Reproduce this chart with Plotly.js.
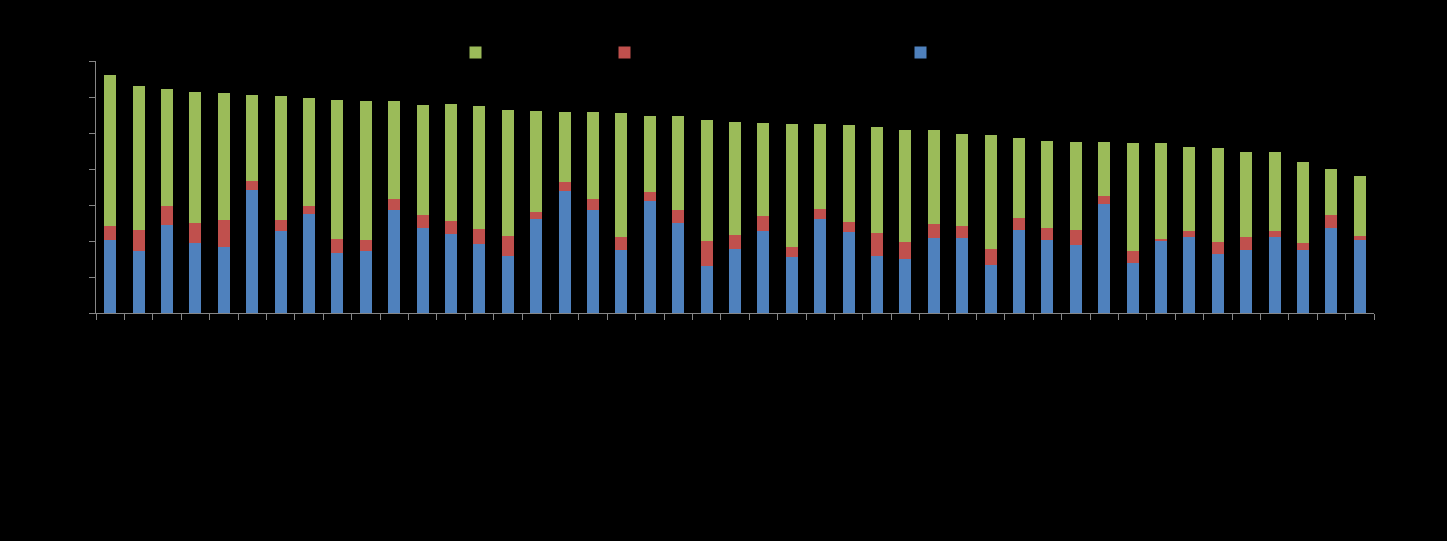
<!DOCTYPE html>
<html>
<head>
<meta charset="utf-8">
<script src="https://cdn.plot.ly/plotly-3.0.1.min.js"></script>
<style>
  html, body { margin: 0; padding: 0; background: #000000; }
  #chart { width: 1447px; height: 541px; }
</style>
</head>
<body>
<div id="chart"></div>
<script>
// Categories (labels are drawn in black on black in the reference, so unreadable)
const categories = Array.from({length: 45}, (_, i) => "Item " + (i + 1));

// Series values (stack: blue bottom, red middle, green top)
const seriesBlue = [
  2.03, 1.72, 2.44, 1.94, 1.83, 3.42, 2.28, 2.75, 1.67, 1.72,
  2.86, 2.36, 2.19, 1.92, 1.58, 2.61, 3.39, 2.86, 1.75, 3.11,
  2.50, 1.31, 1.78, 2.28, 1.56, 2.61, 2.25, 1.58, 1.50, 2.08,
  2.08, 1.33, 2.31, 2.03, 1.89, 3.03, 1.39, 2.00, 2.11, 1.64,
  1.75, 2.11, 1.75, 2.36, 2.03
];
const seriesRed = [
  0.39, 0.58, 0.53, 0.56, 0.75, 0.25, 0.31, 0.22, 0.39, 0.31,
  0.31, 0.36, 0.36, 0.42, 0.56, 0.19, 0.25, 0.31, 0.36, 0.25,
  0.36, 0.69, 0.39, 0.42, 0.28, 0.28, 0.28, 0.64, 0.47, 0.39,
  0.33, 0.44, 0.33, 0.33, 0.42, 0.22, 0.33, 0.06, 0.17, 0.33,
  0.36, 0.17, 0.19, 0.36, 0.11
];
const seriesGreen = [
  4.19, 4.00, 3.25, 3.64, 3.53, 2.39, 3.44, 3.00, 3.86, 3.86,
  2.72, 3.06, 3.25, 3.42, 3.50, 2.81, 1.94, 2.42, 3.44, 2.11,
  2.61, 3.36, 3.14, 2.58, 3.42, 2.36, 2.69, 2.94, 3.11, 2.61,
  2.56, 3.17, 2.22, 2.42, 2.44, 1.50, 3.00, 2.67, 2.33, 2.61,
  2.36, 2.19, 2.25, 1.28, 1.67
];
const seriesNames = ["Series 3", "Series 2", "Series 1"];
const yTicks = [0, 1, 2, 3, 4, 5, 6, 7];

const traces = [
  { type: "bar", x: categories, y: seriesBlue, name: seriesNames[0],
    marker: { color: "#4F81BD" }, legend: "legend3" },
  { type: "bar", x: categories, y: seriesRed, name: seriesNames[1],
    marker: { color: "#C0504D" }, legend: "legend2" },
  { type: "bar", x: categories, y: seriesGreen, name: seriesNames[2],
    marker: { color: "#9BBB59" }, legend: "legend" }
];

const W = 1278;
function lx(px) { return (px - 96 - 20) / W; }
const legendFont = { family: "Liberation Sans, Arial, sans-serif", size: 13, color: "#000000" };
const legY = 1.034;

const layout = {
  width: 1447, height: 541,
  paper_bgcolor: "#000000", plot_bgcolor: "#000000",
  margin: { l: 96, r: 73, t: 61, b: 228, pad: 0 },
  barmode: "stack",
  bargap: 0.58,
  font: { family: "Liberation Sans, Arial, sans-serif", size: 13, color: "#000000" },
  showlegend: true,
  legend:  { x: lx(475.5), y: legY, xanchor: "left", yanchor: "middle", orientation: "h",
             bgcolor: "rgba(0,0,0,0)", font: legendFont },
  legend2: { x: lx(624.5), y: legY, xanchor: "left", yanchor: "middle", orientation: "h",
             bgcolor: "rgba(0,0,0,0)", font: legendFont },
  legend3: { x: lx(920.5), y: legY, xanchor: "left", yanchor: "middle", orientation: "h",
             bgcolor: "rgba(0,0,0,0)", font: legendFont },
  xaxis: {
    type: "category",
    showgrid: false, zeroline: false,
    showline: true, linecolor: "#868686", linewidth: 1,
    ticks: "outside", ticklen: 6, tickcolor: "#868686", tickwidth: 1,
    tickson: "boundaries",
    tickfont: { color: "#000000", size: 12 },
    tickangle: -90
  },
  yaxis: {
    range: [0, 7], tickvals: yTicks,
    showgrid: false, zeroline: false,
    showline: true, linecolor: "#868686", linewidth: 1,
    ticks: "outside", ticklen: 6, tickcolor: "#868686", tickwidth: 1,
    tickfont: { color: "#000000", size: 12 }
  }
};

Plotly.newPlot("chart", traces, layout, { displayModeBar: false, staticPlot: true });
</script>
</body>
</html>
